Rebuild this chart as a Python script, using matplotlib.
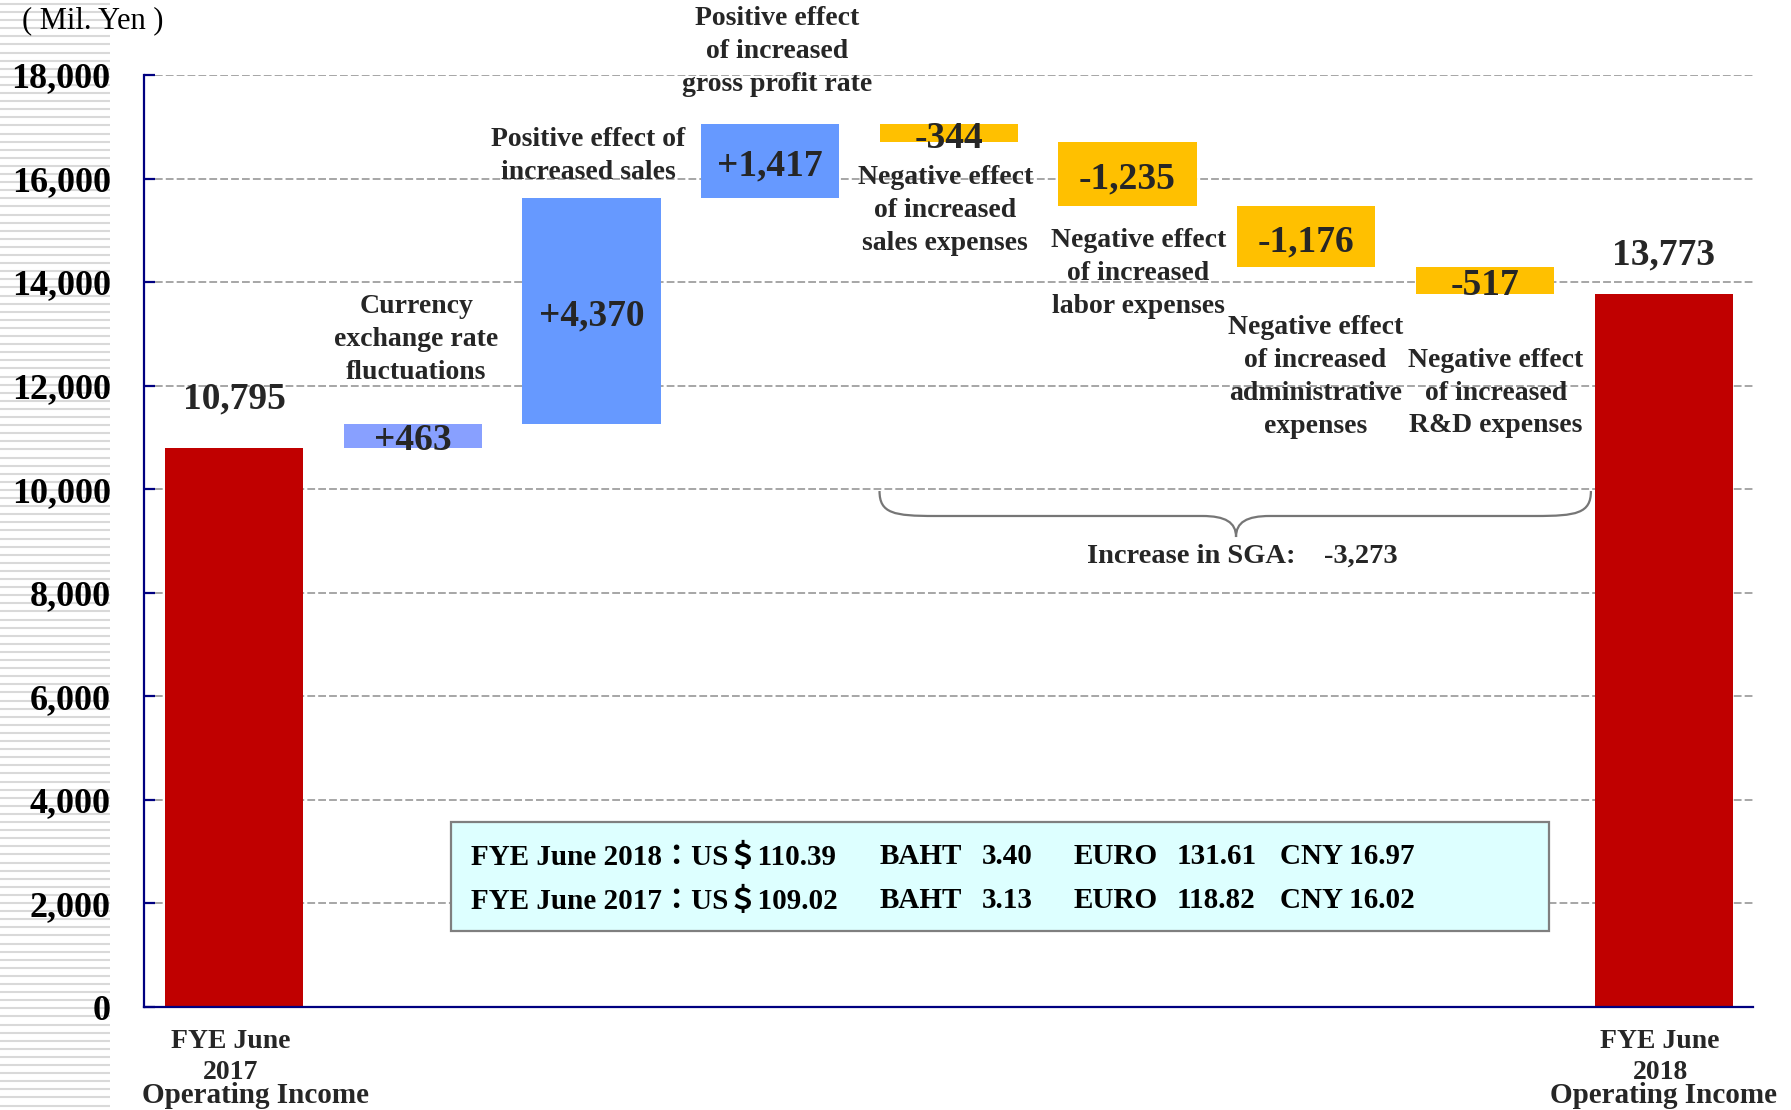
import numpy as np
import matplotlib
matplotlib.use("Agg")
import matplotlib.pyplot as plt
from matplotlib.patches import Rectangle, PathPatch
from matplotlib.path import Path
from matplotlib.ticker import FuncFormatter
from matplotlib.transforms import blended_transform_factory

plt.rcParams['font.family'] = ['Liberation Serif', 'Noto Sans CJK JP']
plt.rcParams['font.weight'] = 'bold'

# data (Mil. Yen)
start_value = 10795
end_value = 13773
changes = [463, 4370, 1417, -344, -1235, -1176, -517]
change_names = ["Currency\nexchange rate\nfluctuations",
                "Positive effect of\nincreased sales",
                "Positive effect\nof increased\ngross profit rate",
                "Negative effect\nof increased\nsales expenses",
                "Negative effect\nof increased\nlabor expenses",
                "Negative effect\nof increased\nadministrative\nexpenses",
                "Negative effect\nof increased\nR&D expenses"]
end_names = ["FYE June\n2017", "FYE June\n2018"]
sga_total = -3273

rate_years = ["2018", "2017"]
usd = ["110.39", "109.02"]
baht = ["3.40", "3.13"]
euro = ["131.61", "118.82"]
cny = ["16.97", "16.02"]

# where the description texts sit (x offset from bar, y centre)
note_dx = [0.02, -0.02, 0.04, -0.02, 0.06, 0.05, 0.06]
note_y = [12900, 16435, 18453, 15392, 14175, 12167, 11858]

dark = '#262626'
colors = ['#C00000', '#88A0FF', '#6699FF', '#6699FF',
          '#FFC000', '#FFC000', '#FFC000', '#FFC000', '#C00000']

levels = np.concatenate([[start_value], start_value + np.cumsum(changes)])
bottoms = [0] + [min(levels[i], levels[i + 1]) for i in range(len(changes))] + [0]
heights = [start_value] + [abs(c) for c in changes] + [end_value]
x = np.arange(len(heights))

fig = plt.figure(figsize=(17.91, 11.10), dpi=100)

# striped strip on the far left
bg = fig.add_axes([0, 0, 110 / 1791, 1])
bg.set_xlim(0, 1)
bg.set_ylim(0, 1110)
bg.hlines(np.arange(1106, 0, -8.1), 0, 1, color='#D9D9D9', lw=1.5)
bg.axis('off')

ax = fig.add_axes([144 / 1791, 1 - 1007 / 1110, 1609 / 1791, 932 / 1110])
ax.bar(x, heights, bottom=bottoms, width=0.773, color=colors, zorder=1)
ax.set_xlim(-0.504, 8.5)
ax.set_ylim(0, 18000)
ax.set_yticks(np.arange(0, 18001, 2000))
ax.yaxis.set_major_formatter(FuncFormatter(lambda v, _: f"{v:,.0f}"))
ax.set_axisbelow(True)
ax.grid(axis='y', color='#A6A6A6', lw=1.4, linestyle=(0, (4, 1.6)))
for s in ['top', 'right']:
    ax.spines[s].set_visible(False)
for s in ['left', 'bottom']:
    ax.spines[s].set_color('#000080')
    ax.spines[s].set_linewidth(1.6)
ax.tick_params(axis='y', direction='in', length=8, width=1.6, color='#000080',
               pad=24, labelsize=26, labelcolor='black')
ax.tick_params(axis='x', length=0, labelbottom=False)

# value labels
ax.annotate(f"{start_value:,}", (0, start_value), xytext=(0, 35), textcoords='offset points',
            ha='center', va='center', fontsize=27, color=dark)
ax.annotate(f"{end_value:,}", (8, end_value), xytext=(0, 28), textcoords='offset points',
            ha='center', va='center', fontsize=27, color=dark)
for i, c in enumerate(changes):
    ax.annotate(f"{c:+,}", (i + 1, bottoms[i + 1] + heights[i + 1] / 2), xytext=(0, -3.5),
                textcoords='offset points', ha='center', va='center',
                fontsize=27, color=dark, zorder=4)
    ax.text(i + 1 + note_dx[i], note_y[i], change_names[i], ha='center', va='center',
            fontsize=20, color=dark, linespacing=1.42, zorder=4)

# bottom category labels
tr = blended_transform_factory(ax.transData, ax.transAxes)
for xi, name, dx in [(0, end_names[0], 0.12), (8, end_names[1], 0.0)]:
    ax.text(xi - 0.02, -0.054, name, transform=tr, ha='center', va='center',
            fontsize=20, color=dark, linespacing=1.32)
    ax.text(xi + dx, -0.095, "Operating Income", transform=tr, ha='center', va='center',
            fontsize=21, color=dark)

# brace under the SGA bars
x0, x1, xc = 3.612, 7.593, 5.607
yt, ym, yb = 9965, 9483, 9077
verts = [(x0, yt), (x0, ym + 50), (x0 + 0.08, ym), (x0 + 0.31, ym),
         (xc - 0.19, ym),
         (xc - 0.06, ym), (xc, ym - 120), (xc, yb),
         (xc, ym - 120), (xc + 0.06, ym), (xc + 0.19, ym),
         (x1 - 0.31, ym),
         (x1 - 0.08, ym), (x1, ym + 50), (x1, yt)]
codes = [Path.MOVETO, Path.CURVE4, Path.CURVE4, Path.CURVE4, Path.LINETO,
         Path.CURVE4, Path.CURVE4, Path.CURVE4, Path.CURVE4, Path.CURVE4, Path.CURVE4,
         Path.LINETO, Path.CURVE4, Path.CURVE4, Path.CURVE4]
ax.add_patch(PathPatch(Path(verts, codes), fill=False, edgecolor='#767676', lw=1.6, zorder=3))
ax.text(xc + 0.035, 8700, f"Increase in SGA:    {sga_total:,}", ha='center', va='center',
        fontsize=20.5, color=dark)

# exchange rate box
ax.add_patch(Rectangle((1.214, 1468), 6.145, 2097, facecolor='#DDFFFF',
                       edgecolor='#7F7F7F', lw=1.6, zorder=2))
col_x = [1.324, 3.612, 4.186, 4.699, 5.274, 5.853]
row_y = [2900, 2066]
for r in range(2):
    parts = [f"FYE June {rate_years[r]}：US＄{usd[r]}", "BAHT", baht[r], "EURO", euro[r],
             f"CNY {cny[r]}"]
    for cx, p in zip(col_x, parts):
        ax.text(cx, row_y[r], p, ha='left', va='center', fontsize=21, color='black', zorder=4)

fig.text(92.5 / 1791, 1 - 20.6 / 1110, "( Mil. Yen )", ha='center', va='center',
         fontsize=22, fontweight='normal', color='black')

fig.savefig("out.png", dpi=100)
